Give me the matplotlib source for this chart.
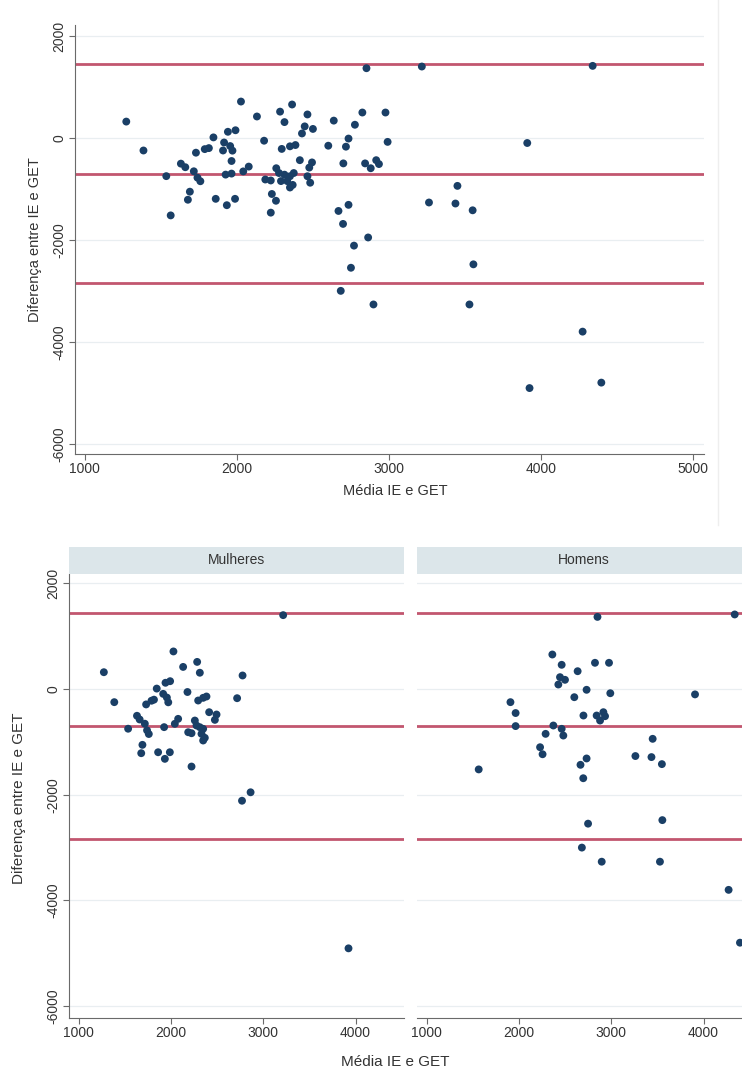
import numpy as np
import matplotlib
matplotlib.use("Agg")
import matplotlib.pyplot as plt
from matplotlib.lines import Line2D

plt.rcParams['font.family'] = ['Liberation Sans', 'DejaVu Sans']

# Mulheres: média (IE+GET)/2 e diferença IE-GET
mulheres_media = [1272, 1385, 1535, 1631, 1660, 1677, 1690, 1716, 1730, 1740,
                  1759, 1788, 1815, 1845, 1860, 1915, 1925, 1933, 1940, 1955,
                  1970, 1990, 1987, 2026, 2041, 2077, 2131, 2178, 2222, 2186,
                  2222, 2258, 2276, 2283, 2312, 2294, 2312, 2330, 2348, 2348,
                  2366, 2348, 2384, 2413, 2475, 2493, 2716, 2769, 2775, 2862,
                  3215, 3923]
mulheres_dif = [320, -247, -750, -505, -575, -1213, -1055, -655, -290, -780,
                -850, -220, -200, 10, -1195, -90, -720, -1320, 120, -160,
                -250, 150, -1195, 713, -657, -563, 420, -55, -1466, -816,
                -835, -595, -689, 515, 310, -216, -721, -847, -752, -165,
                -922, -973, -140, -437, -582, -481, -172, -2113, 258, -1953,
                1400, -4907]

# Homens
homens_media = [1564, 1908, 1964, 1964, 2229, 2256, 2289, 2362, 2373, 2427,
                2445, 2463, 2463, 2481, 2499, 2600, 2636, 2667, 2682, 2697,
                2699, 2733, 2733, 2749, 2824, 2842, 2851, 2879, 2897, 2915,
                2933, 2976, 2990, 3262, 3436, 3449, 3528, 3549, 3554, 3908,
                4272, 4338, 4395]
homens_dif = [-1520, -247, -453, -700, -1100, -1233, -847, 655, -689, 87,
              226, 460, -752, -879, 176, -153, 339, -1433, -3000, -1687,
              -500, -13, -1313, -2547, 498, -500, 1367, -595, -3267, -437,
              -513, 498, -78, -1267, -1287, -941, -3267, -1420, -2480, -100,
              -3800, 1413, -4800]

# limites de concordância (média da diferença e ±1.96 DP)
limites = [1440, -700, -2840]

yticks = [2000, 0, -2000, -4000, -6000]
xticks = [1000, 2000, 3000, 4000, 5000]

navy = '#1a3f66'
linha = '#c2566f'
grade = '#e9eef1'
eixo = '#6a6a6a'

fig = plt.figure(figsize=(7.42, 10.72), dpi=100)


def estilo(ax, xt, ylabels=True):
    for s in ['top', 'right']:
        ax.spines[s].set_visible(False)
    ax.spines['left'].set_color(eixo)
    ax.spines['bottom'].set_color(eixo)
    ax.set_yticks(yticks)
    for yv in yticks:
        ax.axhline(yv, color=grade, lw=0.9, zorder=0)
    ax.set_xticks(xt)
    ax.set_xticklabels([str(v) for v in xt], fontsize=10, color='#333333')
    ax.tick_params(color=eixo, length=4, width=0.8, pad=2)
    if ylabels:
        ax.set_yticklabels([str(v) for v in yticks], fontsize=10,
                           color='#333333', rotation=90, va='center')
    else:
        ax.set_yticklabels([])
        ax.spines['left'].set_visible(False)
        ax.tick_params(axis='y', length=0)
    for lv in limites:
        ax.axhline(lv, color=linha, lw=2.0, zorder=1)


# Painel superior: todos
ax1 = fig.add_axes([0.1011, 0.5765, 0.8477, 0.4002])
ax1.scatter(mulheres_media + homens_media, mulheres_dif + homens_dif,
            s=32, color=navy, edgecolors='none', zorder=3)
ax1.set_xlim(935, 5070)
ax1.set_ylim(-6200, 2215)
estilo(ax1, xticks)
fig.text(395 / 742, 1 - 491 / 1072, 'Média IE e GET', ha='center', va='center',
         fontsize=10.5, color='#333333')
fig.text(35 / 742, 1 - 240 / 1072, 'Diferença entre IE e GET', ha='center',
         va='center', rotation=90, fontsize=10.5, color='#333333')
fig.add_artist(Line2D([718 / 742, 718 / 742], [1, 1 - 525 / 1072],
                      transform=fig.transFigure, color='#eeeeee', lw=1))

# Painéis inferiores por sexo
paineis = [('Mulheres', mulheres_media, mulheres_dif, 68.6, True),
           ('Homens', homens_media, homens_dif, 416.5, False)]
for titulo, mx, dy, x0, ylab in paineis:
    ax = fig.add_axes([x0 / 742, 0.0508, 335 / 742, 0.4142])
    ax.scatter(mx, dy, s=32, color=navy, edgecolors='none', zorder=3)
    ax.set_xlim(890, 4520)
    ax.set_ylim(-6217, 2188)
    estilo(ax, xticks[:4], ylabels=ylab)
    strip = fig.add_axes([x0 / 742, 0.465, 335 / 742, 0.0243])
    strip.set_facecolor('#dce6ea')
    strip.set_xticks([])
    strip.set_yticks([])
    for s in strip.spines.values():
        s.set_visible(False)
    strip.text(0.5, 0.5, titulo, ha='center', va='center', fontsize=10,
               color='#333333', transform=strip.transAxes)

fig.text(395 / 742, 1 - 1062 / 1072, 'Média IE e GET', ha='center', va='center',
         fontsize=11, color='#333333')
fig.text(19 / 742, 1 - 798 / 1072, 'Diferença entre IE e GET', ha='center',
         va='center', rotation=90, fontsize=11, color='#333333')

fig.savefig('out.png', dpi=100)
